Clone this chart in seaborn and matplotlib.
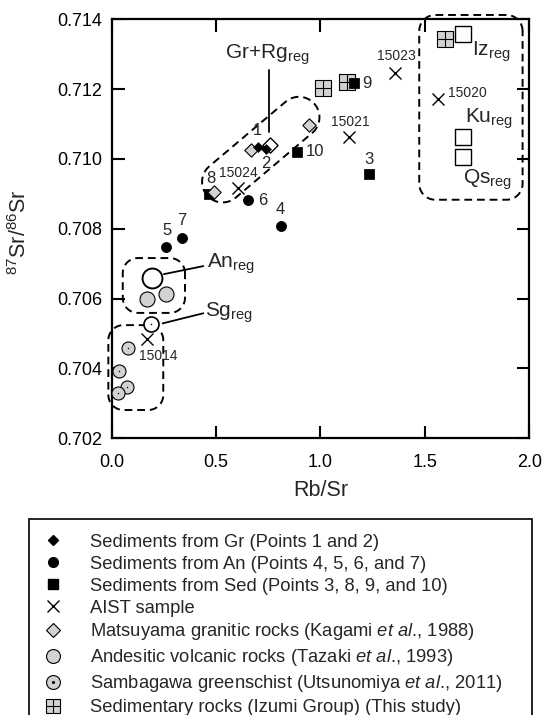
import numpy as np
import matplotlib
matplotlib.use("Agg")
import matplotlib.pyplot as plt
import seaborn as sns
from matplotlib.lines import Line2D

# ---- data (Rb/Sr, 87Sr/86Sr) ----
gr_rb = [0.702, 0.739]                       # points 1, 2
gr_sr = [0.71035, 0.71028]
an_rb = [0.809, 0.258, 0.654, 0.335]         # points 4, 5, 6, 7
an_sr = [0.70808, 0.70748, 0.70882, 0.70774]
sed_rb = [1.234, 0.467, 1.160, 0.886]        # points 3, 8, 9, 10
sed_sr = [0.70957, 0.70900, 0.71218, 0.71021]
aist_rb = [0.606, 1.138, 1.357, 1.561, 0.170]
aist_sr = [0.70916, 0.71062, 0.71245, 0.71172, 0.70483]
aist_ids = ["15024", "15021", "15023", "15020", "15014"]
matsu_rb = [0.667, 0.490, 0.946]
matsu_sr = [0.71026, 0.70906, 0.71097]
andes_rb = [0.168, 0.260]
andes_sr = [0.70598, 0.70612]
samba_rb = [0.0795, 0.035, 0.072, 0.029]
samba_sr = [0.70459, 0.70393, 0.70348, 0.70329]
izumi_rb = [1.011, 1.125, 1.596]
izumi_sr = [0.71202, 0.71221, 0.71342]
# regional averages
grrg_reg = (0.758, 0.71040)
an_reg = (0.192, 0.70658)
sg_reg = (0.188, 0.70526)
sq_reg_rb = [1.681, 1.681, 1.681]            # Iz, Ku, Qs
sq_reg_sr = [0.71358, 0.71062, 0.71005]

GRAY = "#d2d2d2"

sns.set_style("ticks")
plt.rcParams["font.family"] = ["Liberation Sans", "DejaVu Sans"]
plt.rcParams["mathtext.fontset"] = "custom"
plt.rcParams["mathtext.rm"] = "Liberation Sans"
plt.rcParams["mathtext.it"] = "Liberation Sans:italic"

fig = plt.figure(figsize=(5.43, 7.15), dpi=100)
ax = fig.add_axes([0.2057, 0.387, 0.769, 0.5862])
ax.set_xlim(0, 2.0)
ax.set_ylim(0.702, 0.714)


def pts(x, y, z, **kw):
    sns.scatterplot(x=x, y=y, ax=ax, legend=False, zorder=z, **kw)


pts(izumi_rb, izumi_sr, 2, marker="s", s=120, color=GRAY, edgecolor="k", linewidth=0.8)
pts(izumi_rb, izumi_sr, 2.1, marker="+", s=120, color="k", linewidth=0.8)
pts(sed_rb, sed_sr, 3, marker="s", s=45, color="k", edgecolor="k")
pts(matsu_rb, matsu_sr, 4, marker="D", s=46, color=GRAY, edgecolor="k", linewidth=0.8)
pts([grrg_reg[0]], [grrg_reg[1]], 4, marker="D", s=60, color="white", edgecolor="k", linewidth=1.0)
pts(gr_rb, gr_sr, 5, marker="D", s=26, color="k", edgecolor="k")
pts(an_rb, an_sr, 3, marker="o", s=52, color="k", edgecolor="k")
pts(aist_rb, aist_sr, 3, marker="x", s=75, color="k", linewidth=1.0)
pts(andes_rb, andes_sr, 3, marker="o", s=117, color=GRAY, edgecolor="k", linewidth=0.8)
pts([an_reg[0]], [an_reg[1]], 3, marker="o", s=205, color="white", edgecolor="k", linewidth=1.4)
pts(samba_rb, samba_sr, 3, marker="o", s=88, color=GRAY, edgecolor="k", linewidth=0.8)
pts(samba_rb, samba_sr, 3.1, marker=".", s=6, color="k")
pts([sg_reg[0]], [sg_reg[1]], 3, marker="o", s=117, color="white", edgecolor="k", linewidth=1.2)
pts([sg_reg[0]], [sg_reg[1]], 3.1, marker=".", s=6, color="k")
pts(sq_reg_rb, sq_reg_sr, 3, marker="s", s=144, color="white", edgecolor="k", linewidth=1.0)

# ---- axes styling ----
ax.set_xticks([0.0, 0.5, 1.0, 1.5, 2.0])
ax.set_xticklabels(["0.0", "0.5", "1.0", "1.5", "2.0"])
ax.set_yticks([0.702, 0.704, 0.706, 0.708, 0.710, 0.712, 0.714])
ax.set_yticklabels(["0.702", "0.704", "0.706", "0.708", "0.710", "0.712", "0.714"])
ax.tick_params(direction="in", length=9, width=1.5, top=True, right=True,
               labelsize=13, colors="k")
ax.tick_params(axis="x", pad=11)
ax.tick_params(axis="y", pad=7)
for sp in ax.spines.values():
    sp.set_linewidth(1.6)
    sp.set_color("k")
    sp.set_visible(True)
ax.set_xlabel("Rb/Sr", fontsize=15.5, va="center")
ax.set_ylabel(r"$^{\mathregular{87}}$Sr/$^{\mathregular{86}}$Sr", fontsize=15.5, va="center")
ax.xaxis.set_label_coords(0.5, -0.1234)
ax.yaxis.set_label_coords(-0.2196, 0.492)

# ---- point labels ----
num_labels = [("1", 0.699, 0.71081), ("2", 0.739, 0.70987), ("8", 0.474, 0.70944),
              ("6", 0.723, 0.70882), ("4", 0.809, 0.70856), ("5", 0.263, 0.70794),
              ("7", 0.335, 0.70823), ("10", 0.974, 0.71021), ("9", 1.224, 0.71217),
              ("3", 1.234, 0.70999)]
for t, x, y in num_labels:
    ax.text(x, y, t, fontsize=12, ha="center", va="center")

id_pos = [(0.606, 0.70960, "center"), (1.141, 0.71107, "center"),
          (1.362, 0.71295, "center"), (1.611, 0.71188, "left"),
          (0.225, 0.70436, "center")]
for t, (x, y, h) in zip(aist_ids, id_pos):
    ax.text(x, y, t, fontsize=10, ha=h, va="center")

big = 15
ax.text(0.744, 0.71298, r"Gr+Rg$_{\mathregular{reg}}$", fontsize=big, ha="center", va="center")
ax.text(1.724, 0.71307, r"Iz$_{\mathregular{reg}}$", fontsize=big, ha="left", va="center")
ax.text(1.692, 0.71116, r"Ku$_{\mathregular{reg}}$", fontsize=big, ha="left", va="center")
ax.text(1.681, 0.70940, r"Qs$_{\mathregular{reg}}$", fontsize=big, ha="left", va="center")
ax.text(0.455, 0.70701, r"An$_{\mathregular{reg}}$", fontsize=big, ha="left", va="center")
ax.text(0.447, 0.70560, r"Sg$_{\mathregular{reg}}$", fontsize=big, ha="left", va="center")

ax.plot([0.752, 0.752], [0.71255, 0.71078], color="k", lw=1.3, zorder=2)
ax.plot([0.250, 0.439], [0.70670, 0.70693], color="k", lw=1.3, zorder=2)
ax.plot([0.244, 0.439], [0.70529, 0.70558], color="k", lw=1.3, zorder=2)

# ---- dashed group outlines (built in pixel space so corners stay round) ----
dash = dict(color="k", lw=1.4, ls=(0, (4, 2.5)), clip_on=False, zorder=1)


def to_data(verts):
    return ax.transData.inverted().transform(np.asarray(verts))


def round_box(x0, y0, x1, y1, r):
    (a, b), (c, d) = ax.transData.transform([(x0, y0), (x1, y1)])
    xl, xr, yb, yt = min(a, c), max(a, c), min(b, d), max(b, d)
    verts = []
    for cx, cy, t0 in [(xr - r, yt - r, 0), (xl + r, yt - r, 90),
                       (xl + r, yb + r, 180), (xr - r, yb + r, 270)]:
        th = np.radians(np.linspace(t0, t0 + 90, 15))
        verts += list(zip(cx + r * np.cos(th), cy + r * np.sin(th)))
    verts.append(verts[0])
    v = to_data(verts)
    ax.plot(v[:, 0], v[:, 1], **dash)


def stadium(p1, p2, r):
    c1, c2 = ax.transData.transform([p1, p2])
    ang = np.degrees(np.arctan2(*(c2 - c1)[::-1]))
    verts = []
    th = np.radians(np.linspace(ang - 90, ang + 90, 30))
    verts += list(zip(c2[0] + r * np.cos(th), c2[1] + r * np.sin(th)))
    th = np.radians(np.linspace(ang + 90, ang + 270, 30))
    verts += list(zip(c1[0] + r * np.cos(th), c1[1] + r * np.sin(th)))
    verts.append(verts[0])
    v = to_data(verts)
    ax.plot(v[:, 0], v[:, 1], **dash)


stadium((0.531, 0.70934), (0.897, 0.71119), 20.5)
round_box(0.053, 0.70716, 0.351, 0.70559, 15)
round_box(-0.016, 0.70524, 0.247, 0.70281, 15)
round_box(1.473, 0.71412, 1.968, 0.70883, 16)

# ---- legend ----
def mk(m, ms, fc="k", mew=1.0):
    return Line2D([], [], ls="", marker=m, markersize=ms, markerfacecolor=fc,
                  markeredgecolor="k", color="k", markeredgewidth=mew)


handles = [
    mk("D", 5.5),
    mk("o", 7),
    mk("s", 6.5),
    mk("x", 8, mew=1.0),
    mk("D", 7, GRAY, 0.8),
    mk("o", 10, GRAY, 0.8),
    (mk("o", 10, GRAY, 0.8), mk(".", 2.5)),
    (mk("s", 10, GRAY, 0.8), mk("+", 10, mew=0.8)),
]
labels = [
    "Sediments from Gr (Points 1 and 2)",
    "Sediments from An (Points 4, 5, 6, and 7)",
    "Sediments from Sed (Points 3, 8, 9, and 10)",
    "AIST sample",
    r"Matsuyama granitic rocks (Kagami $\mathit{et\ al}$., 1988)",
    r"Andesitic volcanic rocks (Tazaki $\mathit{et\ al}$., 1993)",
    r"Sambagawa greenschist (Utsunomiya $\mathit{et\ al}$., 2011)",
    "Sedimentary rocks (Izumi Group) (This study)",
]
leg = fig.legend(handles, labels, loc="upper left",
                 bbox_to_anchor=(29 / 543, 1 - 519 / 715, 503 / 543, 0),
                 mode="expand", fontsize=13.2, frameon=True, fancybox=False,
                 framealpha=1, edgecolor="k", borderpad=0.8, handlelength=1.0,
                 handletextpad=1.5, labelspacing=0.27, borderaxespad=0)
leg.get_frame().set_linewidth(1.2)

fig.savefig("out.png", dpi=100)
